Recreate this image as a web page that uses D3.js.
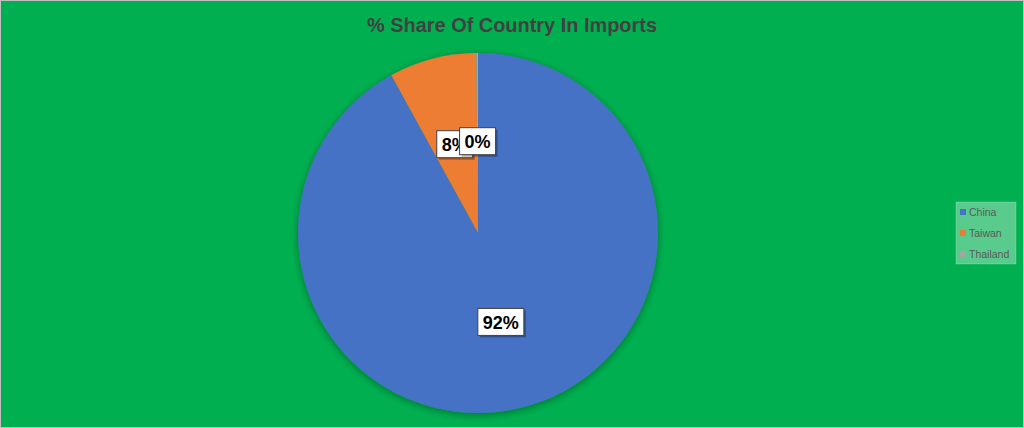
<!DOCTYPE html>
<html><head><meta charset="utf-8">
<script src="https://cdn.jsdelivr.net/npm/d3@7"></script>
<style>html,body{margin:0;padding:0;background:#00B050;}svg{display:block;}</style>
</head><body>
<svg id="chart" width="1024" height="428"></svg>
<script>
const categories = ["China", "Taiwan", "Thailand"];
const values = [92.0, 7.85, 0.15];
const labels = ["92%", "8%", "0%"];
const colors = ["#4472C4", "#ED7D31", "#A5A5A5"];
const title = "% Share Of Country In Imports";

const W = 1024, H = 428;
const svg = d3.select("#chart");
const defs = svg.append("defs");
const f = defs.append("filter").attr("id","pieShadow").attr("x","-20%").attr("y","-20%").attr("width","140%").attr("height","140%");
f.append("feGaussianBlur").attr("in","SourceAlpha").attr("stdDeviation",4).attr("result","b");
f.append("feOffset").attr("in","b").attr("dx",0).attr("dy",2).attr("result","o");
f.append("feComponentTransfer").attr("in","o").attr("result","o2").append("feFuncA").attr("type","linear").attr("slope",0.35);
const m = f.append("feMerge"); m.append("feMergeNode").attr("in","o2"); m.append("feMergeNode").attr("in","SourceGraphic");

svg.append("rect").attr("x",0.5).attr("y",0.5).attr("width",W-1).attr("height",H-1)
  .attr("fill","#00B050").attr("stroke","#BFBFBF").attr("stroke-width",1);

svg.append("text").attr("x",512).attr("y",32).attr("text-anchor","middle")
  .attr("font-family","Liberation Sans, Arial, sans-serif").attr("font-weight","bold")
  .attr("font-size",21).attr("fill","#404040").attr("textLength",290).attr("lengthAdjust","spacingAndGlyphs")
  .text(title);

const cx = 478, cy = 233, r = 180;
const pie = d3.pie().sort(null).value(d => d)(values);
const arc = d3.arc().innerRadius(0).outerRadius(r);
const g = svg.append("g").attr("transform", `translate(${cx},${cy})`);
const pg = g.append("g").attr("filter","url(#pieShadow)");
pg.selectAll("path").data(pie).join("path")
  .attr("d", arc).attr("fill", (d,i) => colors[i]);

const labelArc = d3.arc().innerRadius(r*0.51).outerRadius(r*0.51);
const lg = g.selectAll("g.lbl").data(pie).join("g").attr("class","lbl");
lg.each(function(d,i){
  const [x,y] = labelArc.centroid(d);
  const sel = d3.select(this);
  const t = sel.append("text").attr("x",x).attr("y",y+1).attr("text-anchor","middle")
    .attr("dominant-baseline","central")
    .attr("font-family","Liberation Sans, Arial, sans-serif").attr("font-weight","bold")
    .attr("font-size",18).attr("fill","#000").text(labels[i]);
  const bb = t.node().getBBox();
  const bw = bb.width + 10, bh = 27;
  sel.insert("rect","text").attr("x",x-bw/2+2).attr("y",y-bh/2+2).attr("width",bw).attr("height",bh).attr("fill","rgba(0,0,0,0.3)");
  sel.insert("rect","text").attr("x",x-bw/2).attr("y",y-bh/2).attr("width",bw).attr("height",bh)
    .attr("fill","#fff").attr("stroke","#404040").attr("stroke-width",1);
});

const leg = svg.append("g");
leg.append("rect").attr("x",956).attr("y",202).attr("width",60).attr("height",62)
  .attr("fill","rgba(255,255,255,0.35)").attr("stroke","rgba(255,255,255,0.2)");
const rows = leg.selectAll("g.it").data(categories).join("g").attr("class","it")
  .attr("transform",(d,i)=>`translate(960,${212 + i*21})`);
rows.append("rect").attr("x",0).attr("y",-3).attr("width",6).attr("height",6).attr("fill",(d,i)=>colors[i]);
rows.append("text").attr("x",9).attr("y",0).attr("dominant-baseline","central")
  .attr("font-family","Liberation Sans, Arial, sans-serif").attr("font-size",10.5).attr("fill","#595959").text(d=>d);
</script>
</body></html>
